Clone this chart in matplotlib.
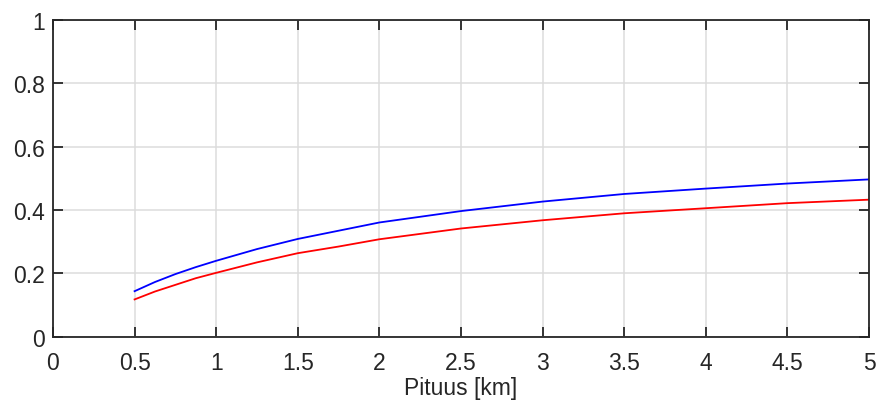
import numpy as np
import matplotlib.pyplot as plt

plt.rcParams['font.family'] = ['Liberation Sans', 'DejaVu Sans']

# values
pituus = [0.5, 0.625, 0.75, 0.875, 1.0, 1.25, 1.5, 1.75, 2.0, 2.5, 3.0, 3.5, 4.0, 4.5, 5.0]
sininen = [0.144, 0.173, 0.198, 0.220, 0.240, 0.277, 0.309, 0.335, 0.361, 0.397, 0.427, 0.451, 0.468, 0.484, 0.497]
punainen = [0.118, 0.143, 0.164, 0.185, 0.202, 0.235, 0.264, 0.285, 0.308, 0.342, 0.368, 0.390, 0.406, 0.422, 0.433]

xticks = [0, 0.5, 1, 1.5, 2, 2.5, 3, 3.5, 4, 4.5, 5]
yticks = [0, 0.2, 0.4, 0.6, 0.8, 1]

fig = plt.figure(figsize=(8.77, 4.06), dpi=100)
ax = fig.add_axes([0.0604, 0.168, 0.9306, 0.780])

ax.plot(pituus, sininen, color='#0000ff', lw=1.3)
ax.plot(pituus, punainen, color='#ff0000', lw=1.3)

ax.set_xlim(0, 5)
ax.set_ylim(0, 1)
ax.set_xticks(xticks)
ax.set_xticklabels([('%g' % t) for t in xticks])
ax.set_yticks(yticks)
ax.set_yticklabels([('%g' % t) for t in yticks])
ax.grid(True, color='#dcdcdc', lw=1.1)
ax.set_axisbelow(True)

ax.tick_params(direction='in', length=7, width=1.3, colors='#262626',
               labelsize=16.5, top=True, right=True)
ax.tick_params(axis='x', pad=10)
ax.tick_params(axis='y', pad=6)
for s in ax.spines.values():
    s.set_color('#262626')
    s.set_linewidth(1.3)

ax.set_xlabel('Pituus [km]', fontsize=16.5, color='#262626', labelpad=2)

fig.savefig('out.png', dpi=100)
